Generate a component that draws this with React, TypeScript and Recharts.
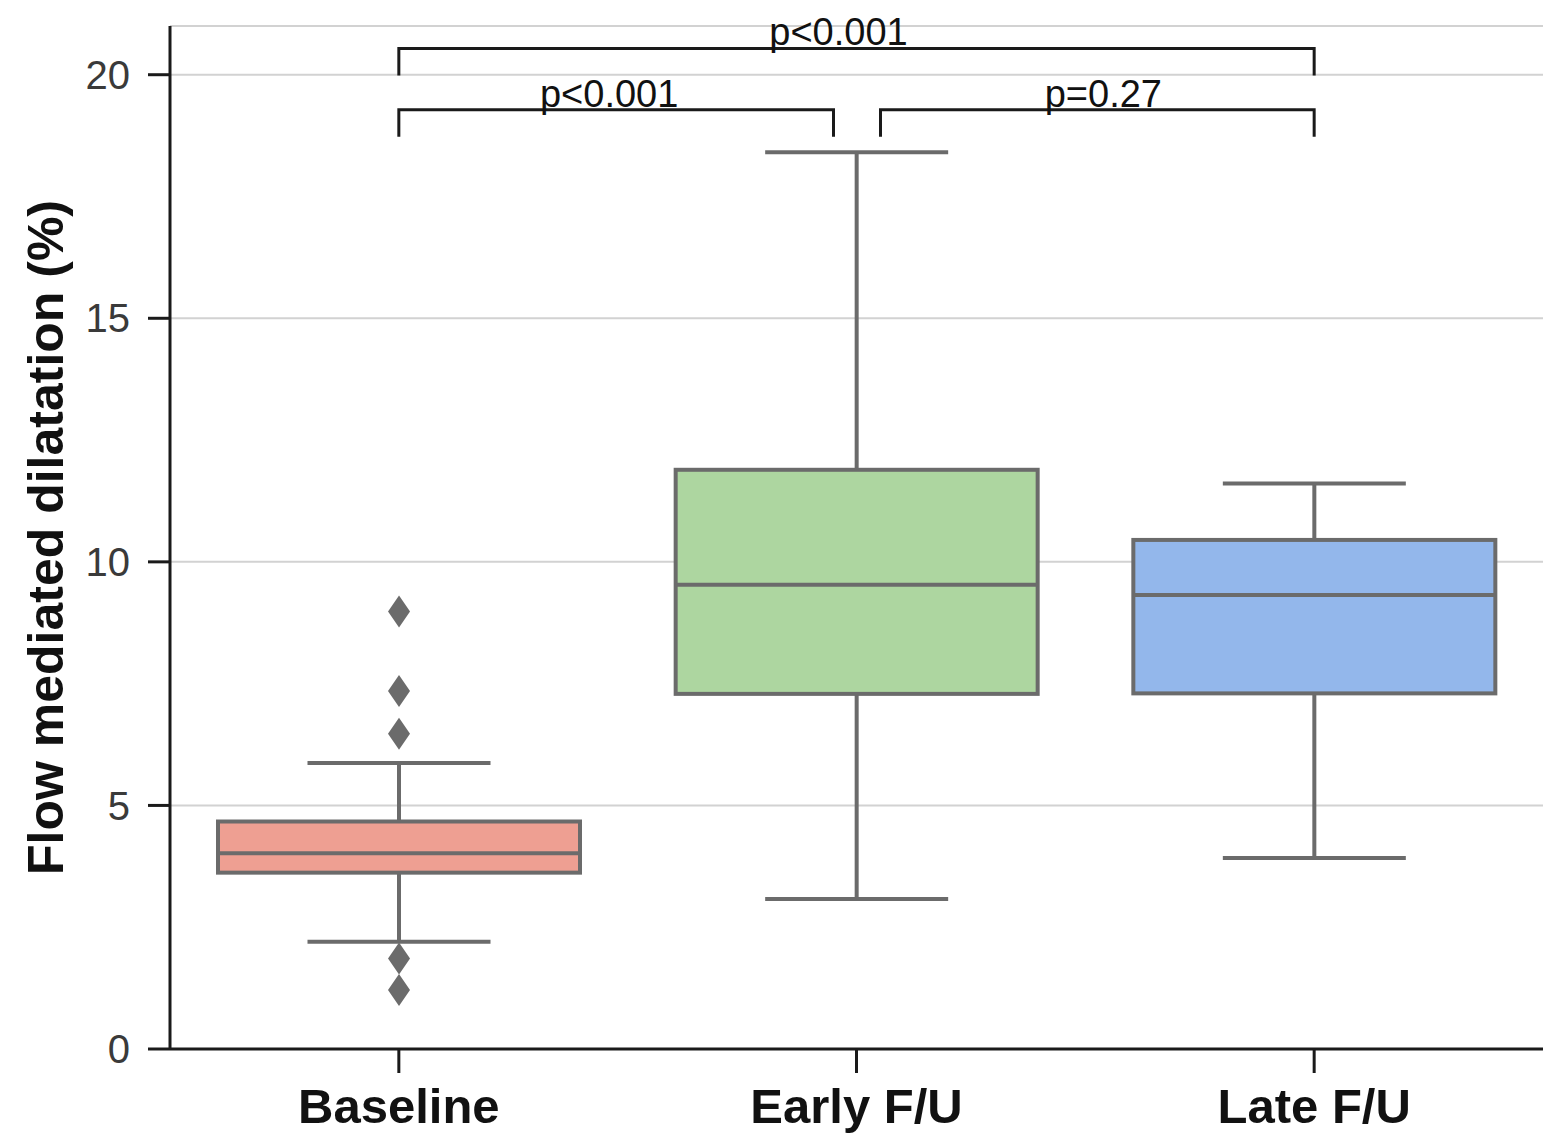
import {
  Bar,
  CartesianGrid,
  ComposedChart,
  Label,
  ReferenceLine,
  XAxis,
  YAxis,
} from "recharts";

const groups = ["Baseline", "Early F/U", "Late F/U"];
const whiskerLow = [2.2, 3.08, 3.92];
const q1 = [3.62, 7.29, 7.3];
const median = [4.02, 9.53, 9.32];
const q3 = [4.67, 11.89, 10.45];
const whiskerHigh = [5.87, 18.41, 11.61];
const outliers = [[8.98, 7.35, 6.47, 1.86, 1.21], [], []];
const fills = ["#ee9f92", "#add6a0", "#93b7eb"];
const yTicks = [0, 5, 10, 15, 20];

// significance brackets: which groups they join, height, and the p value
const bracketFrom = [0, 0, 1];
const bracketTo = [2, 1, 2];
const bracketLevel = [20.54, 19.28, 19.28];
const bracketText = ["p<0.001", "p<0.001", "p=0.27"];
// pixel tweaks (ends pulled in where two brackets meet, label nudge)
const insetL = [0, 0, 24];
const insetR = [0, 23, 0];
const textShift = [-18, -7, 6];

const FONT = "'Liberation Sans', Arial, Helvetica, sans-serif";
const EDGE = "#6b6b6b";
const INK = "#1a1a1a";

const data = groups.map((name, i) => ({
  name,
  range: [whiskerLow[i], whiskerHigh[i]],
  q1: q1[i],
  median: median[i],
  q3: q3[i],
  outliers: outliers[i],
  fill: fills[i],
}));

function BoxShape(props: any) {
  const { x, y, width, height, payload } = props;
  const top = Math.min(y, y + height);
  const h = Math.abs(height);
  const [lo, hi] = payload.range;
  const py = (v: number) => top + (h * (hi - v)) / (hi - lo);
  const cx = x + width / 2;
  const capHalf = width / 4;
  const sw = 4;
  return (
    <g>
      <line x1={cx} x2={cx} y1={py(hi)} y2={py(lo)} stroke={EDGE} strokeWidth={sw} />
      <rect
        x={x + sw / 2}
        y={py(payload.q3)}
        width={width - sw}
        height={py(payload.q1) - py(payload.q3)}
        fill={payload.fill}
        stroke={EDGE}
        strokeWidth={sw}
      />
      <line
        x1={x + sw / 2}
        x2={x + width - sw / 2}
        y1={py(payload.median)}
        y2={py(payload.median)}
        stroke={EDGE}
        strokeWidth={sw}
      />
      <line x1={cx - capHalf} x2={cx + capHalf} y1={py(hi)} y2={py(hi)} stroke={EDGE} strokeWidth={sw} />
      <line x1={cx - capHalf} x2={cx + capHalf} y1={py(lo)} y2={py(lo)} stroke={EDGE} strokeWidth={sw} />
      {payload.outliers.map((v: number, k: number) => {
        const oy = py(v);
        return (
          <polygon
            key={k}
            points={`${cx},${oy - 16} ${cx + 11},${oy} ${cx},${oy + 16} ${cx - 11},${oy}`}
            fill={EDGE}
          />
        );
      })}
    </g>
  );
}

function bracketShape(i: number) {
  return (p: any) => {
    const l = Math.min(p.x1, p.x2) + insetL[i];
    const r = Math.max(p.x1, p.x2) - insetR[i];
    const y = p.y1;
    const drop = 27;
    return (
      <g>
        <path
          d={`M${l},${y + drop} V${y} H${r} V${y + drop}`}
          fill="none"
          stroke={INK}
          strokeWidth={3}
        />
        <text
          x={(l + r) / 2 + textShift[i]}
          y={y - 3}
          textAnchor="middle"
          fill="#111"
          fontSize={38}
          fontFamily={FONT}
        >
          {bracketText[i]}
        </text>
      </g>
    );
  };
}

export default function App() {
  return (
    <div style={{ position: "absolute", left: 0, top: 0, background: "#fff" }}>
      <ComposedChart
        width={1543}
        height={1144}
        data={data}
        margin={{ top: 26, right: 0, bottom: 0, left: 0 }}
      >
        <CartesianGrid vertical={false} stroke="#d2d2d2" strokeWidth={2} />
        <XAxis
          dataKey="name"
          tickSize={24}
          tickMargin={15}
          height={95}
          axisLine={{ stroke: INK, strokeWidth: 3 }}
          tickLine={{ stroke: INK, strokeWidth: 3 }}
          tick={{ fill: "#111", fontSize: 49, fontWeight: 700, fontFamily: FONT }}
        />
        <YAxis
          domain={[0, 21]}
          ticks={yTicks}
          width={170}
          tickSize={22}
          tickMargin={18}
          axisLine={{ stroke: INK, strokeWidth: 3 }}
          tickLine={{ stroke: INK, strokeWidth: 3 }}
          tick={{ fill: "#3a3a3a", fontSize: 40, fontFamily: FONT }}
        >
          <Label
            value="Flow mediated dilatation (%)"
            angle={-90}
            position="insideLeft"
            offset={45}
            fill="#111"
            fontSize={50}
            fontWeight={700}
            fontFamily={FONT}
            style={{ textAnchor: "middle" }}
          />
        </YAxis>
        <Bar
          dataKey="range"
          barSize={366}
          shape={<BoxShape />}
          isAnimationActive={false}
        />
        {bracketText.map((t, i) => (
          <ReferenceLine
            key={t + i}
            ifOverflow="visible"
            segment={[
              { x: groups[bracketFrom[i]], y: bracketLevel[i] },
              { x: groups[bracketTo[i]], y: bracketLevel[i] },
            ]}
            shape={bracketShape(i)}
          />
        ))}
      </ComposedChart>
    </div>
  );
}
